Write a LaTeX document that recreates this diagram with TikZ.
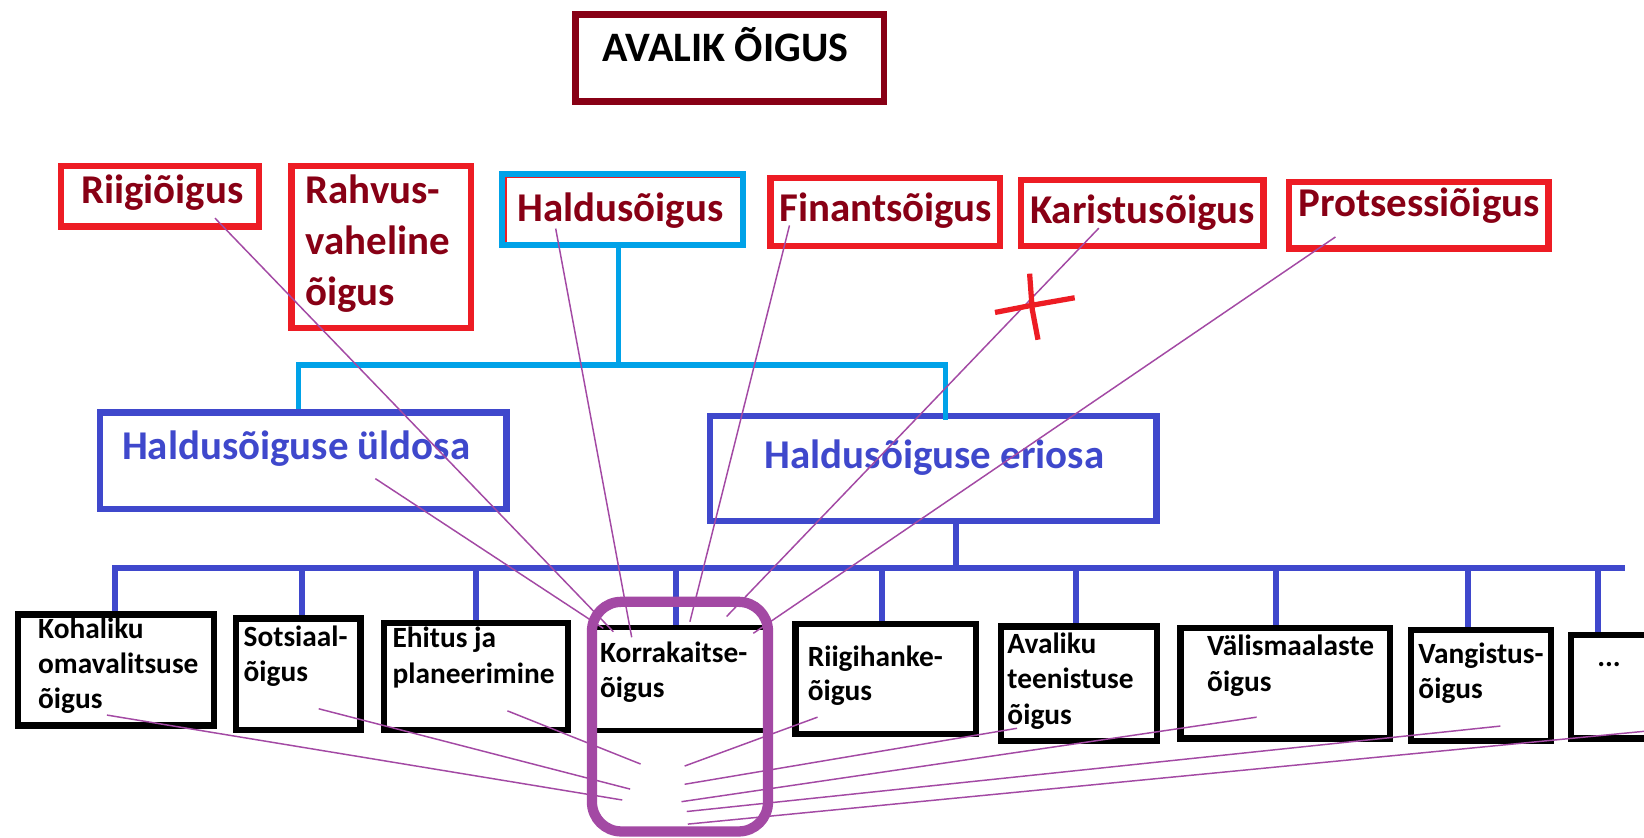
\documentclass[tikz,border=0pt]{standalone}
\usepackage{fontspec}
\setmainfont{Carlito}
\usetikzlibrary{fit,calc}
\definecolor{dred}{HTML}{880015}
\definecolor{pred}{HTML}{ED1C24}
\definecolor{pcyan}{HTML}{00A2E8}
\definecolor{pblue}{HTML}{3F48CC}
\definecolor{ppurple}{HTML}{A349A4}
\begin{document}
\begin{tikzpicture}[x=0.5pt,y=-0.5pt,
 every node/.style={inner sep=0pt},
 boxbase/.style={draw, rectangle, inner sep=0pt, line width=3pt},
 titlebox/.style={boxbase, draw=dred, line width=3.2pt},
 redbox/.style={boxbase, draw=pred},
 cyanbox/.style={boxbase, draw=pcyan, line width=2.9pt},
 bluebox/.style={boxbase, draw=pblue},
 blackbox/.style={boxbase, draw=black},
 korrframe/.style={boxbase, draw=ppurple, line width=4.9pt, rounded corners=14pt},
 redtxt/.style={anchor=base west, text=dred, font=\bfseries\fontsize{19.5}{23}\selectfont},
 titletxt/.style={anchor=base west, text=black, font=\bfseries\fontsize{20}{24}\selectfont},
 bluetxt/.style={anchor=base west, text=pblue, font=\bfseries\fontsize{19.5}{23}\selectfont},
 smalltxt/.style={anchor=base west, text=black, font=\bfseries\fontsize{14}{17}\selectfont},
 cyanline/.style={draw=pcyan, line width=2.6pt},
 blueline/.style={draw=pblue, line width=2.8pt},
 thinline/.style={draw=ppurple, line width=0.7pt},
 xmark/.style={draw=pred, line width=2.5pt},
]
\useasboundingbox (0,0) rectangle (1568,799);
\fill[white] (0,0) rectangle (1568,799);
\clip (0,0) rectangle (1568,799);

% ---- top row ----
\node[titlebox, fit={(549,14) (843,97)}] (avalik) {};
\node[titletxt] (avalik-t) at (574,59) {AVALIK ÕIGUS};

\node[redbox, fit={(58,158) (247,216)}] (riigi) {};
\node[redtxt] (riigi-t) at (77,194) {Riigiõigus};

\node[redbox, fit={(278,158) (449,313)}] (rahvus) {};
\node[redtxt] (rahvus-t1) at (291,194) {Rahvus-};
\node[redtxt] (rahvus-t2) at (291,243) {vaheline};
\node[redtxt] (rahvus-t3) at (291,291) {õigus};

\node[cyanbox, fit={(479,166) (709,234)}] (haldus) {};
\draw[pred, line width=0.6pt] (482.5,231) -- (482.5,169) -- (706,169);
\node[redtxt] (haldus-t) at (493,211) {Haldusõigus};

\node[redbox, fit={(735,170) (954,234.5)}] (finants) {};
\node[redtxt] (finants-t) at (743,211) {Finantsõigus};

\node[redbox, fit={(974,171.5) (1205,234.5)}] (karistus) {};
\node[redtxt] (karistus-t) at (982,213) {Karistusõigus};

\node[redbox, fit={(1229.5,173.7) (1477,237)}] (protsessi) {};
\node[redtxt] (protsessi-t) at (1238,206.6) {Protsessiõigus};

% ---- middle row ----
\node[bluebox, fit={(95.3,393.4) (483,485.5)}] (uldosa) {};
\node[bluetxt] (uldosa-t) at (116,438.7) {Haldusõiguse üldosa};

\node[bluebox, fit={(677.5,397) (1103,497)}] (eriosa) {};
\node[bluetxt] (eriosa-t) at (729,447) {Haldusõiguse eriosa};

% ---- bottom row ----
\node[blackbox, fit={(17,586) (204,692)}] (kohaliku) {};
\node[smalltxt] (kohaliku-t1) at (36,609) {Kohaliku};
\node[smalltxt] (kohaliku-t2) at (36,642.5) {omavalitsuse};
\node[smalltxt] (kohaliku-t3) at (36,676) {õigus};

\node[blackbox, fit={(225,590) (343.7,696)}] (sotsiaal) {};
\node[smalltxt] (sotsiaal-t1) at (232,617) {Sotsiaal-};
\node[smalltxt] (sotsiaal-t2) at (232,650) {õigus};

\node[blackbox, fit={(366,594.3) (541.7,696)}] (ehitus) {};
\node[smalltxt] (ehitus-t1) at (374,618) {Ehitus ja};
\node[smalltxt] (ehitus-t2) at (374,652) {planeerimine};

\node[blackbox, line width=2.25pt, fit={(566,598.5) (731,697)}] (korra) {};
\node[smalltxt] (korra-t1) at (572,632) {Korrakaitse-};
\node[smalltxt] (korra-t2) at (572,665) {õigus};

\node[blackbox, fit={(758.6,595) (931,700)}] (riigihanke) {};
\node[smalltxt] (riigihanke-t1) at (770,636) {Riigihanke-};
\node[smalltxt] (riigihanke-t2) at (770,668) {õigus};

\node[blackbox, fit={(954.5,597.5) (1103.5,706.6)}] (avaliku) {};
\node[smalltxt] (avaliku-t1) at (960.5,623) {Avaliku};
\node[smalltxt] (avaliku-t2) at (960.5,657) {teenistuse};
\node[smalltxt] (avaliku-t3) at (960.5,691) {õigus};

\node[blackbox, fit={(1126,599) (1325.6,704.4)}] (valis) {};
\node[smalltxt] (valis-t1) at (1151,625) {Välismaalaste};
\node[smalltxt] (valis-t2) at (1151,659.5) {õigus};

\node[blackbox, fit={(1346,601) (1479,706.6)}] (vang) {};
\node[smalltxt] (vang-t1) at (1352.5,633) {Vangistus-};
\node[smalltxt] (vang-t2) at (1352.5,666) {õigus};

\node[blackbox, fit={(1498.5,605.5) (1600,704.4)}] (dots) {};
\node[smalltxt] (dots-t) at (1523,636) {...};

% ---- cyan connectors ----
\coordinate (c0) at (590,348);
\coordinate (cL) at (284.5,348);
\coordinate (cR) at (901.6,348);
\draw[cyanline] (haldus.south -| c0) -- (c0);
\draw[cyanline] (uldosa.north -| cL) -- (cL) -- (cR) -- ($(eriosa.north -| cR)+(0,7)$);

% ---- blue connectors ----
\coordinate (bT) at (912,541.5);
\coordinate (d1) at (110,541.5);
\coordinate (d2) at (288,541.5);
\coordinate (d3) at (454,541.5);
\coordinate (d4) at (645,541.5);
\coordinate (d5) at (841,541.5);
\coordinate (d6) at (1026,541.5);
\coordinate (d7) at (1217,541.5);
\coordinate (d8) at (1400,541.5);
\coordinate (d9) at (1524,541.5);
\coordinate (busR) at (1550,541.5);
\draw[blueline] (eriosa.south -| bT) -- (bT);
\draw[blueline] (kohaliku.north -| d1) -- (d1) -- (busR);
\draw[blueline] (d2) -- (sotsiaal.north -| d2);
\draw[blueline] (d3) -- (ehitus.north -| d3);
\draw[blueline] (d4) -- (korra.north -| d4);
\draw[blueline] (d5) -- (riigihanke.north -| d5);
\draw[blueline] (d6) -- (avaliku.north -| d6);
\draw[blueline] (d7) -- (valis.north -| d7);
\draw[blueline] (d8) -- (vang.north -| d8);
\draw[blueline] (d9) -- (dots.north -| d9);

% ---- thin purple lines ----
\coordinate (riigi-p) at (205,208);
\coordinate (uldosa-p) at (358,456.5);
\coordinate (haldus-p) at (530,218);
\coordinate (finants-p) at (753,215);
\coordinate (karistus-p) at (1048,217.6);
\coordinate (protsessi-p) at (1273.7,226);
\coordinate (k1) at (585,602.5);
\coordinate (k2) at (575.4,599.3);
\coordinate (k3) at (602.5,607.8);
\coordinate (k4) at (658,593);
\coordinate (k5) at (693,588);
\coordinate (k6) at (718.5,604);
\draw[thinline] (riigi-p) -- (k1);
\draw[thinline] (uldosa-p) -- (k2);
\draw[thinline] (haldus-p) -- (k3);
\draw[thinline] (finants-p) -- (k4);
\draw[thinline] (karistus-p) -- (k5);
\draw[thinline] (protsessi-p) -- (k6);

\coordinate (kohaliku-p) at (102,682);
\coordinate (sotsiaal-p) at (304,676);
\coordinate (ehitus-p) at (484,678);
\coordinate (riigihanke-p) at (779.7,684);
\coordinate (avaliku-p) at (970,694.6);
\coordinate (valis-p) at (1198.5,684);
\coordinate (vang-p) at (1431,692.5);
\coordinate (dots-p) at (1568,697.5);
\coordinate (m1) at (593.5,763);
\coordinate (m2) at (601,752.6);
\coordinate (m3) at (611,728.7);
\coordinate (m4) at (653,730.6);
\coordinate (m5) at (653,748);
\coordinate (m6) at (650,764.6);
\coordinate (m7) at (655,774);
\coordinate (m8) at (656,786);
\draw[thinline] (kohaliku-p) -- (m1);
\draw[thinline] (sotsiaal-p) -- (m2);
\draw[thinline] (ehitus-p) -- (m3);
\draw[thinline] (riigihanke-p) -- (m4);
\draw[thinline] (avaliku-p) -- (m5);
\draw[thinline] (valis-p) -- (m6);
\draw[thinline] (vang-p) -- (m7);
\draw[thinline] (dots-p) -- (m8);

% ---- purple frame ----
\node[korrframe, fit={(564.6,574) (732.5,793)}] (korrframe) {};

% ---- red cross ----
\draw[xmark] (982,261) -- (984.5,295) -- (990,324);
\draw[xmark] (949,298) -- (985,291) -- (1025,284);
\end{tikzpicture}
\end{document}
